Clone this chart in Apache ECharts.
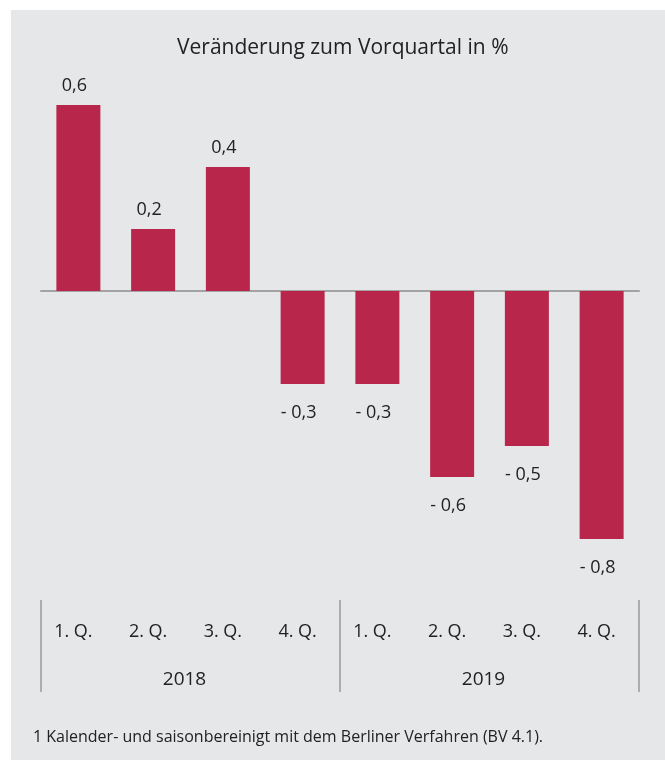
<!DOCTYPE html>
<html>
<head>
    <meta charset="utf-8">
    <title>Veränderung zum Vorquartal</title>
    <script src="https://cdn.jsdelivr.net/npm/echarts@6/dist/echarts.min.js"></script>
    <style>
        body { margin: 0; background: #fff; }
    </style>
</head>
<body>
    <div id="main" style="width: 665px;height:760px;"></div>
    <script type="text/javascript">
        var quarters = ['1. Q.', '2. Q.', '3. Q.', '4. Q.', '1. Q.', '2. Q.', '3. Q.', '4. Q.'];
        var years = ['2018', '2019'];
        var values = [0.6, 0.2, 0.4, -0.3, -0.3, -0.6, -0.5, -0.8];

        var font = '"Open Sans", sans-serif';

        function fmt(v) {
            var s = Math.abs(v).toFixed(1).replace('.', ',');
            return v < 0 ? '- ' + s : s;
        }

        // Beschriftung oben bzw. unten je nach Vorzeichen
        var barData = values.map(function (v) {
            return {
                value: v,
                label: { position: v < 0 ? 'bottom' : 'top', distance: v < 0 ? 20 : 10 }
            };
        });

        var chart = echarts.init(document.getElementById('main'));
        chart.setOption({
            backgroundColor: '#fff',
            animation: false,
            title: {
                text: 'Veränderung zum Vorquartal in %',
                left: 172,
                top: 33,
                textStyle: { fontFamily: font, fontWeight: 'normal', fontSize: 21, color: '#222' }
            },
            graphic: [
                { type: 'rect', z: -10, shape: { x: 11, y: 10, width: 660, height: 760 }, style: { fill: '#e6e7e8' } },
                { type: 'text', left: 33, top: 729, style: {
                    text: '1 Kalender- und saisonbereinigt mit dem Berliner Verfahren (BV 4.1).',
                    font: '16px ' + font, fill: '#222' } }
            ],
            grid: { left: 41, right: 26, top: 74, bottom: 190 },
            xAxis: [{
                type: 'category',
                data: quarters,
                axisLine: { onZero: true, lineStyle: { color: '#a3a3a3', width: 2 } },
                axisTick: { show: false },
                axisLabel: { show: false }
            }, {
                type: 'category',
                data: quarters,
                position: 'bottom',
                axisLine: { show: false },
                axisTick: { show: false },
                axisLabel: { margin: 53, padding: [0, 10, 0, 0], fontFamily: font, fontSize: 18, color: '#222' }
            }, {
                type: 'category',
                data: years,
                position: 'bottom',
                offset: 122,
                axisLine: { show: false },
                axisTick: { show: true, inside: true, length: 92, lineStyle: { color: '#9a9a9a', width: 1.5 } },
                axisLabel: { margin: -22, padding: [0, 12, 0, 0], fontFamily: font, fontSize: 19, color: '#222' }
            }],
            yAxis: {
                type: 'value',
                min: -0.9,
                max: 0.7,
                show: false,
                splitLine: { show: false }
            },
            series: [{
                type: 'bar',
                data: barData,
                barWidth: 44,
                itemStyle: { color: '#b8264b' },
                label: {
                    show: true,
                    offset: [-4, 0],
                    fontFamily: font,
                    fontSize: 18,
                    color: '#222',
                    formatter: function (p) { return fmt(p.value); }
                }
            }]
        });
    </script>
</body>
</html>
